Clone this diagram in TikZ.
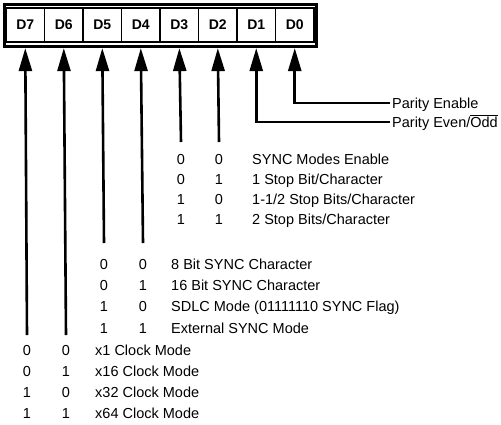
\documentclass[tikz,border=0pt]{standalone}
\usepackage{fontspec}
\setmainfont{Liberation Sans}
\usetikzlibrary{arrows.meta}

\begin{document}
\begin{tikzpicture}[x=1pt, y=-1pt, >={Triangle[length=23pt,width=13pt]},
  wire/.style={line width=2.6pt, shorten >=5.5pt},
  cell/.style={draw, line width=1.2pt, minimum width=38.5pt, minimum height=34pt, inner sep=0pt,
    font=\fontsize{14}{16}\selectfont\bfseries},
  num/.style={inner sep=0pt, text height=10.2pt, text depth=0pt, font=\fontsize{14.5}{16}\selectfont},
  lbl/.style={num, anchor=west, inner xsep=2pt}]
  \useasboundingbox (0,0) rectangle (501,424);

  % Register
  \draw[line width=3pt] (4,4) rectangle (316,46);
  \node[cell] (d7) at (25.25,25) {D7};
  \node[cell] (d6) at (63.75,25) {D6};
  \node[cell] (d5) at (102.25,25) {D5};
  \node[cell] (d4) at (140.75,25) {D4};
  \node[cell] (d3) at (179.25,25) {D3};
  \node[cell] (d2) at (217.75,25) {D2};
  \node[cell] (d1) at (256.25,25) {D1};
  \node[cell] (d0) at (294.75,25) {D0};

  % Parity bits
  \node[lbl] (penable) at (390,103) {Parity Enable};
  \node[lbl] (peven) at (390,122) {Parity Even/$\overline{\mbox{Odd}}$};
  \draw[wire, ->] (penable.west) -| (d0.south);
  \draw[wire, ->] (peven.west) -| (d1.south);

  % Stop bits (D3, D2)
  \foreach \u/\v/\txt [count=\i] in {0/0/{SYNC Modes Enable}, 0/1/{1 Stop Bit/Character},
      1/0/{1-1/2 Stop Bits/Character}, 1/1/{2 Stop Bits/Character}} {
    \node[num] (sa\i) at (181,139+20.2*\i) {\u};
    \node[num] (sb\i) at (219,139+20.2*\i) {\v};
    \node[lbl] (st\i) at (250,139+20.2*\i) {\txt};
  }
  \coordinate (e3) at (181,142);
  \coordinate (e2) at (219,142);
  \draw[wire, ->] (e3) -- (d3.south);
  \draw[wire, ->] (e2) -- (d2.south);

  % Sync modes (D5, D4)
  \foreach \u/\v/\txt [count=\i] in {0/0/{8 Bit SYNC Character}, 0/1/{16 Bit SYNC Character},
      1/0/{SDLC Mode (01111110 SYNC Flag)}, 1/1/{External SYNC Mode}} {
    \node[num] (ya\i) at (104,242.7+21.3*\i) {\u};
    \node[num] (yb\i) at (143,242.7+21.3*\i) {\v};
    \node[lbl] (yt\i) at (169,242.7+21.3*\i) {\txt};
  }
  \coordinate (e5) at (104,243);
  \coordinate (e4) at (143,243);
  \draw[wire, ->] (e5) -- (d5.south);
  \draw[wire, ->] (e4) -- (d4.south);

  % Clock modes (D7, D6)
  \foreach \u/\v/\txt [count=\i] in {0/0/{x1 Clock Mode}, 0/1/{x16 Clock Mode},
      1/0/{x32 Clock Mode}, 1/1/{x64 Clock Mode}} {
    \node[num] (ca\i) at (27,329+21*\i) {\u};
    \node[num] (cb\i) at (66,329+21*\i) {\v};
    \node[lbl] (ct\i) at (93,329+21*\i) {\txt};
  }
  \coordinate (e7) at (27,335);
  \coordinate (e6) at (66,335);
  \draw[wire, ->] (e7) -- (d7.south);
  \draw[wire, ->] (e6) -- (d6.south);
\end{tikzpicture}
\end{document}
